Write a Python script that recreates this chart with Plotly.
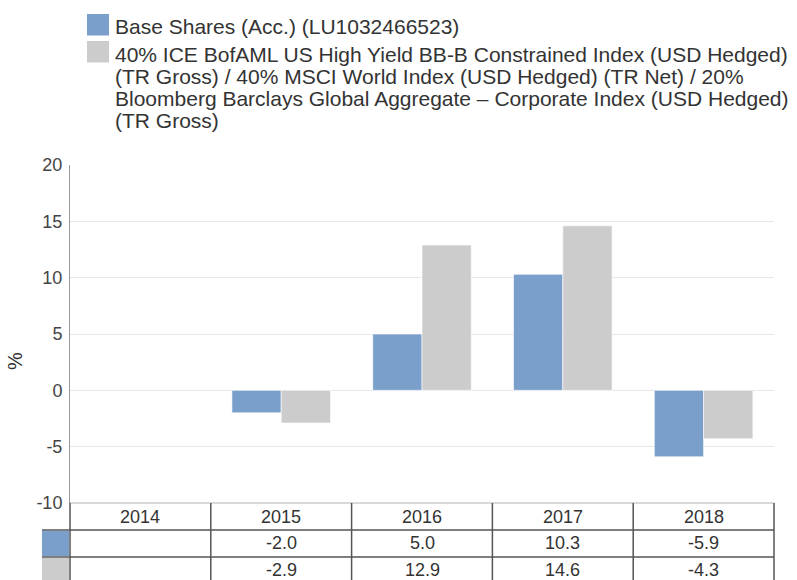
import plotly.graph_objects as go

# ---- data ----
years = ["2014", "2015", "2016", "2017", "2018"]
fund_values = [None, -2.0, 5.0, 10.3, -5.9]
index_values = [None, -2.9, 12.9, 14.6, -4.3]
series_names = [
    "Base Shares (Acc.) (LU1032466523)",
    "40% ICE BofAML US High Yield BB-B Constrained Index (USD Hedged) (TR Gross) / 40% MSCI World Index (USD Hedged) (TR Net) / 20% Bloomberg Barclays Global Aggregate – Corporate Index (USD Hedged) (TR Gross)",
]
legend_lines = [
    ["Base Shares (Acc.) (LU1032466523)"],
    [
        "40% ICE BofAML US High Yield BB-B Constrained Index (USD Hedged)",
        "(TR Gross) / 40% MSCI World Index (USD Hedged) (TR Net) / 20%",
        "Bloomberg Barclays Global Aggregate – Corporate Index (USD Hedged)",
        "(TR Gross)",
    ],
]
y_ticks = [-10, -5, 0, 5, 10, 15, 20]
y_ticktext = [str(v) for v in y_ticks]
y_title = "%"

# ---- style ----
colors = ["#7a9fca", "#cccccc"]
FONT = "Liberation Sans, Arial, sans-serif"
TXT = "#333333"
TABLE_LINE = "#555555"

fig = go.Figure()
for name, vals, col in zip(series_names, [fund_values, index_values], colors):
    fig.add_trace(go.Bar(
        x=years, y=vals, name=name,
        marker=dict(color=col, line=dict(color="rgba(255,255,255,0.6)", width=1)),
        showlegend=False,
    ))

M_L, M_R, M_T, M_B = 70, 23, 165, 77
fig.update_layout(
    width=797, height=580,
    margin=dict(l=M_L, r=M_R, t=M_T, b=M_B),
    paper_bgcolor="white", plot_bgcolor="white",
    barmode="group", bargap=0.3, bargroupgap=0,
    font=dict(family=FONT, color=TXT),
    xaxis=dict(type="category", range=[-0.5, len(years) - 0.5],
               showticklabels=False, showgrid=False,
               showline=False, zeroline=False, ticks=""),
    yaxis=dict(range=[-10, 20], tickvals=y_ticks, ticktext=y_ticktext,
               showgrid=True, gridcolor="#e8e8e8", gridwidth=1, zeroline=False,
               showline=True, linecolor="#999999", linewidth=1,
               tickfont=dict(size=18, color="#444444", family=FONT),
               ticks="", ticklabelstandoff=3),
)

shapes = []
annotations = []

n = len(years)
row_offsets = [0, -27, -54]  # pixel offsets below plot bottom
shapes.append(dict(type="line", xref="paper", yref="paper", x0=0, x1=1,
                   ysizemode="pixel", yanchor=0, y0=0, y1=0,
                   line=dict(color="#cccccc", width=1.5)))
for off in row_offsets[1:]:
    shapes.append(dict(type="line", xref="paper", yref="paper",
                       xsizemode="pixel", xanchor=0, x0=-28, x1=704,
                       ysizemode="pixel", yanchor=0, y0=off, y1=off,
                       line=dict(color=TABLE_LINE, width=1.5)))
for i in range(n + 1):
    xp = i / n
    shapes.append(dict(type="line", xref="paper", yref="paper", x0=xp, x1=xp,
                       ysizemode="pixel", yanchor=0, y0=0, y1=-80,
                       line=dict(color=TABLE_LINE, width=1.5)))
for r, col in enumerate(colors):
    top = row_offsets[r + 1] - 1
    bot = top - 25 if r == 0 else top - 30
    shapes.append(dict(type="rect", xref="paper", yref="paper",
                       xsizemode="pixel", xanchor=0, x0=-28, x1=-1,
                       ysizemode="pixel", yanchor=0, y0=top, y1=bot,
                       line=dict(width=0), fillcolor=col, layer="below"))

# table text
for i, yr in enumerate(years):
    annotations.append(dict(x=i, xref="x", y=0, yref="paper", yshift=-14,
                            text=yr, showarrow=False, yanchor="middle",
                            font=dict(size=18, color=TXT, family=FONT)))
for r, vals in enumerate([fund_values, index_values]):
    for i, v in enumerate(vals):
        annotations.append(dict(x=i, xref="x", y=0, yref="paper",
                                yshift=row_offsets[r + 1] - 13,
                                text="" if v is None else f"{v:.1f}",
                                showarrow=False, yanchor="middle",
                                font=dict(size=18, color=TXT, family=FONT)))

# legend (custom)
legend_swatch_tops = [14, 41]
line_centers = [[26], [54, 76, 98, 120]]
for col, top, lines, centers in zip(colors, legend_swatch_tops, legend_lines, line_centers):
    shapes.append(dict(type="rect", xref="paper", yref="paper",
                       xsizemode="pixel", xanchor=0, x0=17, x1=39,
                       ysizemode="pixel", yanchor=1, y0=M_T - top, y1=M_T - top - 21.5,
                       line=dict(width=0), fillcolor=col))
    for txt, c in zip(lines, centers):
        annotations.append(dict(x=0, xref="paper", xshift=43, xanchor="left",
                                y=1, yref="paper", yshift=M_T - c, yanchor="middle",
                                text=txt, showarrow=False,
                                font=dict(size=21, color=TXT, family=FONT)))

annotations.append(dict(x=0, xref="paper", xshift=-55, xanchor="center",
                        y=0, yref="paper", yshift=142, yanchor="middle",
                        text=y_title, textangle=-90, showarrow=False,
                        font=dict(size=20, color=TXT, family=FONT)))

fig.update_layout(shapes=shapes, annotations=annotations)
fig.write_html("out.html", config={"displayModeBar": False},
               post_script="document.body.style.margin='0';document.body.style.padding='0';")
